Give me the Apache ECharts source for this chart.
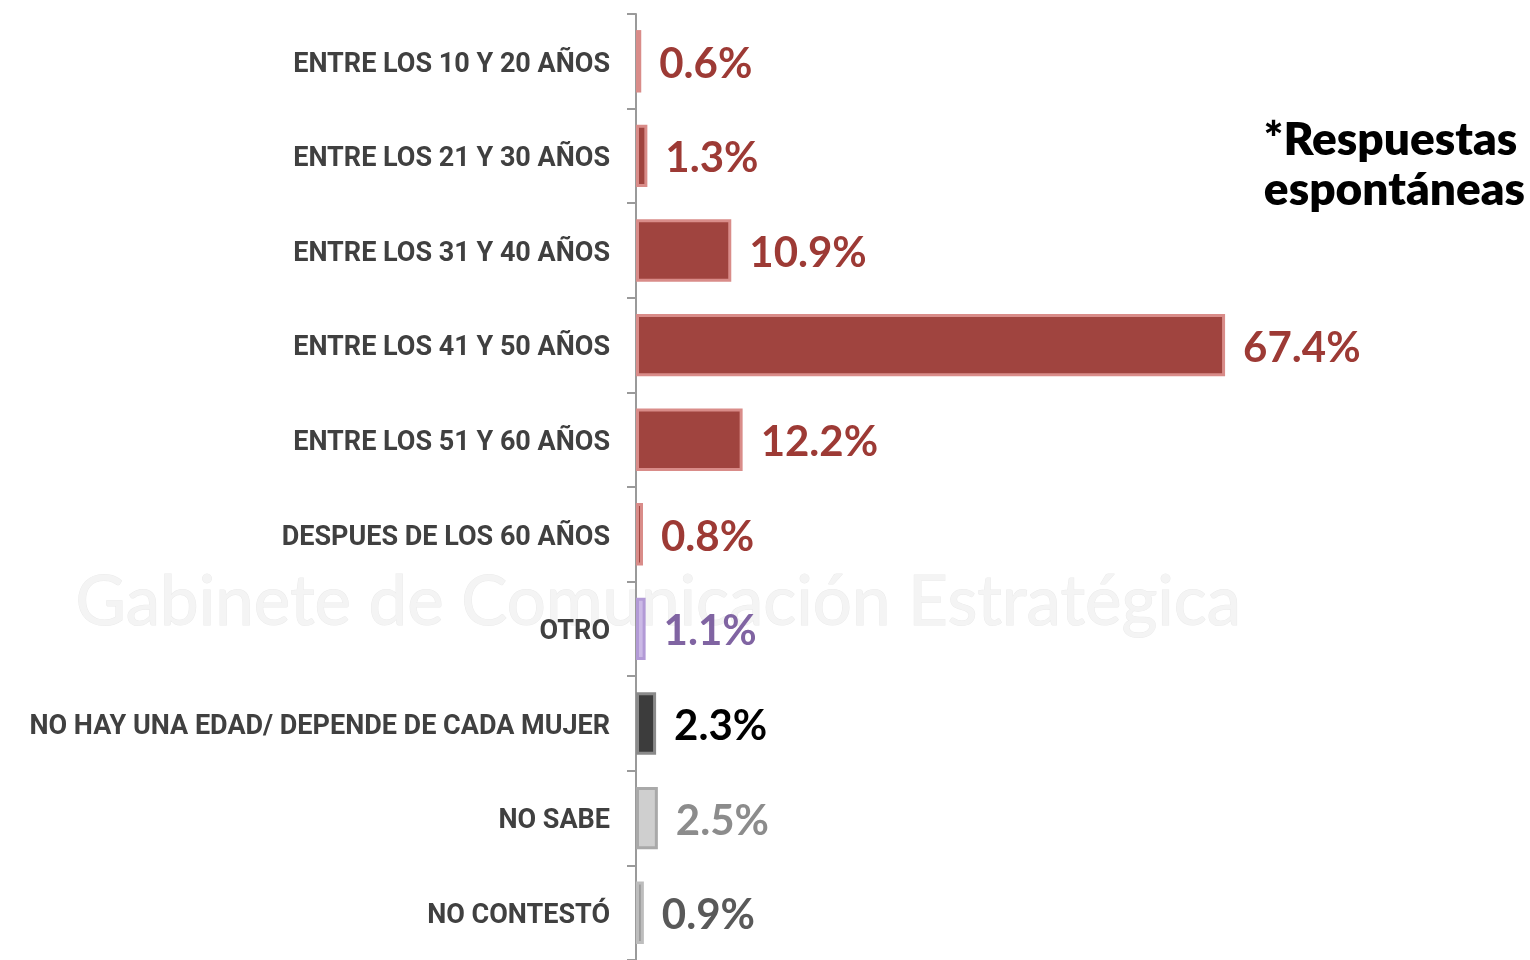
<!DOCTYPE html>
<html>
<head>
<meta charset="utf-8">
<script src="https://cdn.jsdelivr.net/npm/echarts@6/dist/echarts.min.js"></script>
<style>
  html, body { margin: 0; padding: 0; background: #fff; }
  #chart { width: 1530px; height: 960px; }
</style>
</head>
<body>
<div id="chart"></div>
<script>
// categorias y porcentajes
var categorias = [
  'ENTRE LOS 10 Y 20 AÑOS',
  'ENTRE LOS 21 Y 30 AÑOS',
  'ENTRE LOS 31 Y 40 AÑOS',
  'ENTRE LOS 41 Y 50 AÑOS',
  'ENTRE LOS 51 Y 60 AÑOS',
  'DESPUES DE LOS 60 AÑOS',
  'OTRO',
  'NO HAY UNA EDAD/ DEPENDE DE CADA MUJER',
  'NO SABE',
  'NO CONTESTÓ'
];
var porcentajes = [0.6, 1.3, 10.9, 67.4, 12.2, 0.8, 1.1, 2.3, 2.5, 0.9];

// colores por barra: relleno, bisel, etiqueta
var rojo = { fill: '#a0443f', edge: '#d98c89', label: '#9d3a35' };
var estilos = [rojo, rojo, rojo, rojo, rojo, rojo,
  { fill: '#cbb9e6', edge: '#b29ad6', label: '#8064a2' },
  { fill: '#3c3c3c', edge: '#8a8a8a', label: '#000000' },
  { fill: '#cfcfcf', edge: '#a9a9a9', label: '#8c8c8c' },
  { fill: '#9d9d9d', edge: '#bdbdbd', label: '#595959' }
];

var chart = echarts.init(document.getElementById('chart'));

var option = {
  backgroundColor: '#ffffff',
  animation: false,
  graphic: [
    {
      // marca de agua
      type: 'text',
      left: 75,
      top: 568,
      z: -10,
      style: {
        text: 'Gabinete de Comunicación Estratégica',
        font: '400 69px Lato',
        fill: '#f4f4f4',
        stroke: '#ebebeb',
        lineWidth: 1
      }
    },
    {
      type: 'text',
      right: 5,
      top: 115,
      style: {
        text: '*Respuestas\nespontáneas',
        font: '800 46px Lato',
        fill: '#000',
        align: 'right',
        lineHeight: 50
      }
    }
  ],
  grid: {
    left: 636,
    right: 20,
    top: 14,
    height: 949
  },
  xAxis: {
    type: 'value',
    min: 0,
    max: 100,
    show: false
  },
  yAxis: {
    type: 'category',
    inverse: true,
    data: categorias,
    axisLine: { show: true, lineStyle: { color: '#9a9a9a', width: 2 } },
    axisTick: { show: true, length: 9, lineStyle: { color: '#9a9a9a', width: 2 } },
    axisLabel: {
      margin: 26,
      formatter: function (v) { return '{c|' + v + '}'; },
      rich: {
        c: {
          color: '#404040',
          fontFamily: 'Roboto',
          fontWeight: 'bold',
          fontSize: 27,
          padding: [7, 0, 0, 0]
        }
      }
    }
  },
  series: [
    {
      type: 'bar',
      barWidth: '66%',
      data: porcentajes.map(function (v, i) {
        var s = estilos[i];
        return {
          value: v,
          itemStyle: { color: s.fill, borderColor: s.edge, borderWidth: 3 },
          label: { color: s.label }
        };
      }),
      label: {
        show: true,
        position: 'right',
        distance: 18,
        offset: [0, 3],
        fontFamily: 'Lato',
        fontWeight: 'bold',
        fontSize: 42,
        formatter: function (p) { return p.value.toFixed(1) + '%'; }
      }
    }
  ]
};

chart.setOption(option);
</script>
</body>
</html>
